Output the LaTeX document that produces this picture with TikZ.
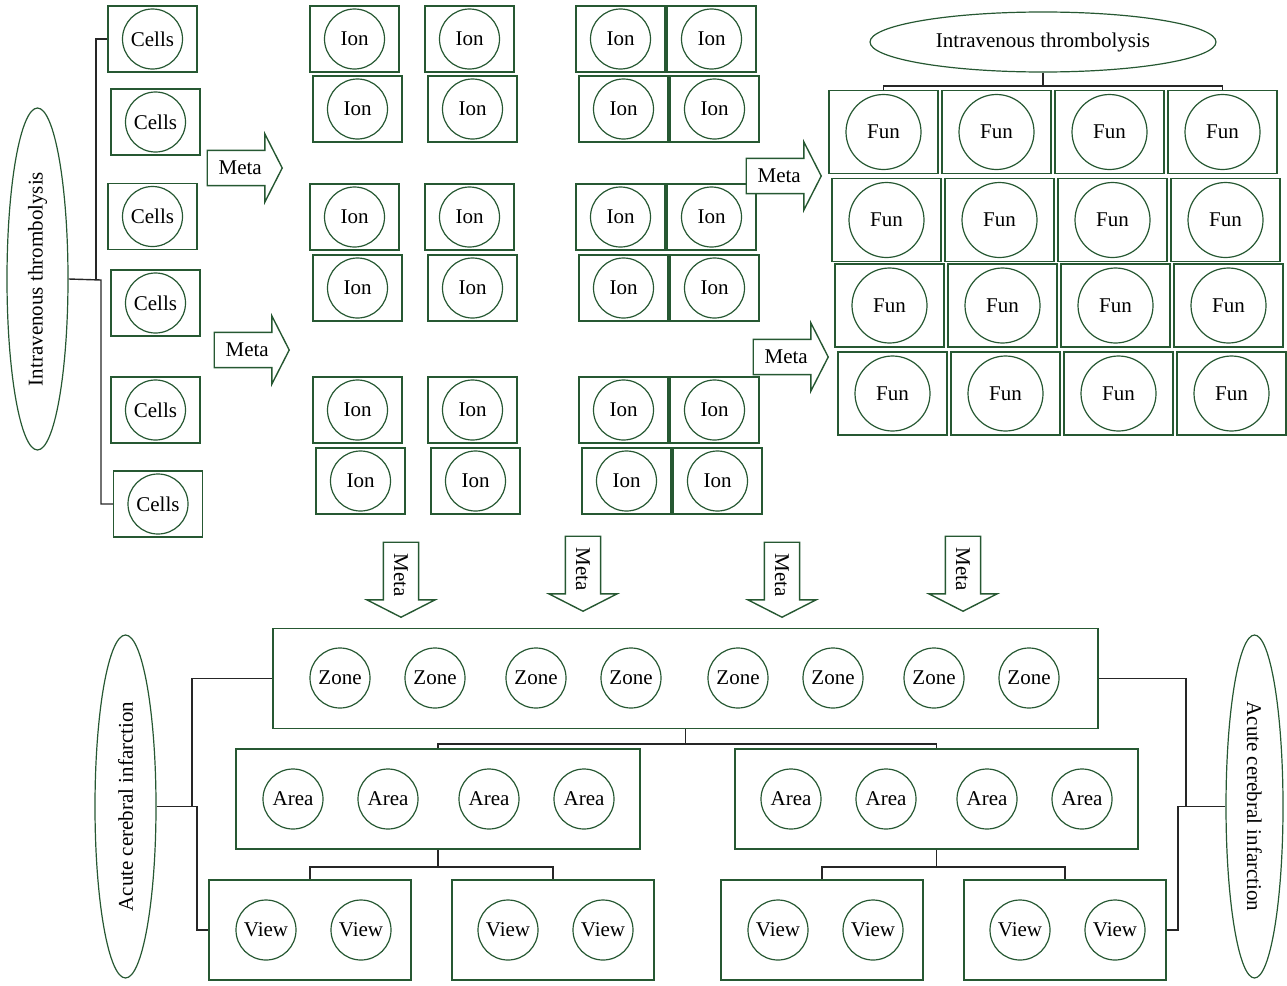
\documentclass[tikz,border=0pt]{standalone}
\usepackage{fontspec}
\setmainfont{Liberation Serif}
\usetikzlibrary{shapes.geometric,shapes.arrows}
\definecolor{leaf}{RGB}{38,88,50}
\tikzset{
  cellbox/.style={draw=leaf, line width=1.4, minimum width=89, minimum height=66, inner sep=0},
  funbox/.style={draw=leaf, line width=1.4, minimum width=109, minimum height=83, inner sep=0},
  panel/.style={draw=leaf, line width=1.4, minimum height=100, inner sep=0},
  ball/.style={circle, draw=leaf, line width=1.2, minimum size=60, inner sep=0},
  bigball/.style={ball, minimum size=75},
  oval/.style={ellipse, draw=leaf, line width=1.2, inner sep=0},
  meta/.style={single arrow, draw=leaf, fill=white, line width=1.4, minimum height=75,
               minimum width=67, single arrow head extend=16.5, single arrow tip angle=126,
               inner xsep=0, inner ysep=10, anchor=tip},
  link/.style={draw=black!85, line width=1.4}
}
\begin{document}
\begin{tikzpicture}[x=1pt, y=-1pt, font=\fontsize{21}{25}\selectfont]
    \useasboundingbox (0,0) rectangle (1287,985);

    % left column
    \node[oval, minimum width=61, minimum height=342] (intra-l) at (37.5,279)
      {\rotatebox{90}{Intravenous thrombolysis}};
    \foreach \x/\y [count=\i] in {152.5/39, 155.5/122, 152.5/216.5, 155.5/303, 155.5/410, 158/504} {
      \node[cellbox] (cells-\i) at (\x,\y) {};
      \node[ball] (cells-\i-c) at (cells-\i) {Cells};
    }
    \coordinate (lt-a) at (96,280);
    \coordinate (lt-b) at (101,280);
    \draw[link] (intra-l.east) -- (lt-b) |- (cells-6.west);
    \draw[link] (lt-a) |- (cells-1.west);

    % ion grid
    \foreach \y/\dx [count=\r] in {39/0, 109/3, 217/0, 288/3, 410/3, 481/6}
      \foreach \x [count=\c] in {354.5, 469.5, 620.5, 711.5} {
        \node[cellbox] (ion-\r-\c) at (\x+\dx,\y) {};
        \node[ball] (ion-\r-\c-c) at (ion-\r-\c) {Ion};
      }

    % fun grid
    \node[oval, minimum width=346, minimum height=60] (intra-t) at (1043,42) {Intravenous thrombolysis};
    \foreach \y/\dx [count=\r] in {132/0, 220/3, 305.5/6, 393.5/9}
      \foreach \x [count=\c] in {883.5, 996.5, 1109.5, 1222.5} {
        \node[funbox] (fun-\r-\c) at (\x+\dx,\y) {};
        \node[bigball] (fun-\r-\c-c) at (fun-\r-\c) {Fun};
      }
    \coordinate (bus-top) at (intra-t.south |- 0,86);
    \draw[link] (intra-t.south) -- (bus-top);
    \draw[link] (fun-1-1.north) |- (bus-top) -| (fun-1-4.north);

    % meta arrows
    \node[meta] (meta-1) at (283,168) {Meta};
    \node[meta] (meta-2) at (290,350) {Meta};
    \node[meta] (meta-3) at (822,176) {Meta};
    \node[meta] (meta-4) at (829,357) {Meta};
    \foreach \x/\y [count=\i from 5] in {401/618, 583/612, 782/618, 963/612}
      \node[meta, rotate=-90] (meta-\i) at (\x,\y) {Meta};

    % bottom tree
    \node[panel, minimum width=825] (zone) at (685.5,678.5) {};
    \foreach \x [count=\i] in {340,435,536,631,738,833,934,1029}
      \node[ball] (zone-\i) at (\x,678) {Zone};
    \node[panel, minimum width=404] (area-l) at (438,799) {};
    \node[panel, minimum width=403] (area-r) at (936.5,799) {};
    \foreach \x [count=\i] in {293,388,489,584,791,886,987,1082}
      \node[ball] (area-\i) at (\x,799) {Area};
    \foreach \x [count=\i] in {310,553,822,1065}
      \node[panel, minimum width=202] (view-\i) at (\x,930) {};
    \foreach \x [count=\i] in {266,361,508,603,778,873,1020,1115}
      \node[ball] (view-\i-c) at (\x,930) {View};

    \coordinate (bus-za) at (zone.south |- 0,744);
    \draw[link] (zone.south) -- (bus-za);
    \draw[link] (area-l.north) |- (bus-za) -| (area-r.north);
    \coordinate (bus-av) at (area-l.south |- 0,867);
    \draw[link] (area-l.south) -- (bus-av);
    \draw[link] (view-1.north) |- (bus-av) -| (view-2.north);
    \coordinate (bus-bv) at (area-r.south |- 0,867);
    \draw[link] (area-r.south) -- (bus-bv);
    \draw[link] (view-3.north) |- (bus-bv) -| (view-4.north);

    % side ovals
    \node[oval, minimum width=61, minimum height=343] (acute-l) at (125.5,806.5)
      {\rotatebox{90}{Acute cerebral infarction}};
    \node[oval, minimum width=57, minimum height=343] (acute-r) at (1254.5,806.5)
      {\rotatebox{-90}{Acute cerebral infarction}};
    \coordinate (bl-a) at (192,806.5);
    \coordinate (bl-b) at (197,806.5);
    \draw[link] (acute-l.east) -- (bl-b) |- (view-1.west);
    \draw[link] (bl-a) |- (zone.west);
    \coordinate (br-a) at (1186,806.5);
    \coordinate (br-b) at (1178,806.5);
    \draw[link] (acute-r.west) -- (br-b) |- (view-4.east);
    \draw[link] (br-a) |- (zone.east);
\end{tikzpicture}
\end{document}
